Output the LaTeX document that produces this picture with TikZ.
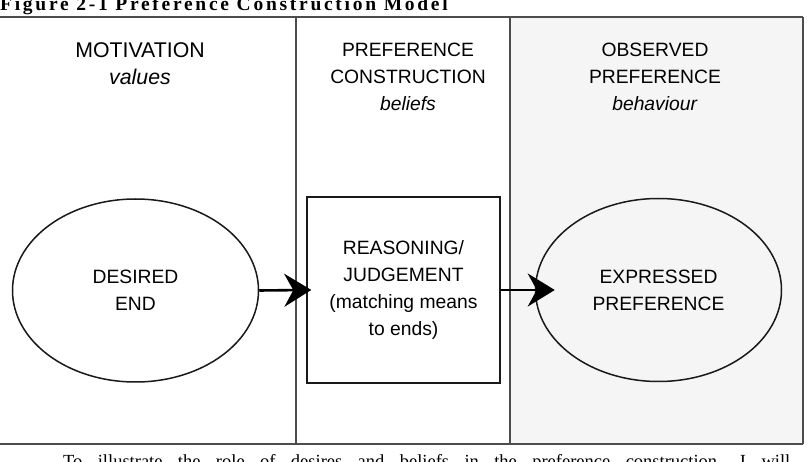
\documentclass[tikz,border=0pt]{standalone}
\usepackage{fontspec}
\setmainfont{Liberation Serif}
\newfontfamily\diagfont{Liberation Sans}
\newfontfamily\titlefont[LetterSpace=14]{Liberation Serif}
\usetikzlibrary{arrows.meta,shapes.geometric}
\begin{document}
\begin{tikzpicture}[x=1pt,y=-1pt,
  frameline/.style={draw=black!70, line width=1.1pt},
  panelshade/.style={fill=black!4},
  labeltext/.style={font=\diagfont\fontsize{19.3}{27}\selectfont, align=center},
  headtext/.style={labeltext, inner sep=0pt},
  ovalnode/.style={labeltext, ellipse, draw=black!90, line width=1.5pt, minimum width=246pt, minimum height=183pt, inner sep=0pt},
  boxnode/.style={labeltext, rectangle, draw=black!90, line width=1.4pt, minimum width=193pt, minimum height=186pt, inner sep=0pt},
  flow/.style={draw=black, line width=2.6pt, -{Stealth[length=27pt,width=33pt,inset=9pt]}}
]
\useasboundingbox (0,0) rectangle (809,462);
% title and running text
\node[anchor=base west, inner sep=0pt, font=\titlefont\bfseries\fontsize{19.5}{23}\selectfont] (title) at (0,11) {Figure 2-1 Preference Construction Model};
\node[anchor=base west, inner sep=0pt, font=\rmfamily\fontsize{18.5}{22}\selectfont] (body) at (63,467) {\makebox[727pt][s]{To illustrate the role of desires and beliefs in the preference construction, I will}};
% panels
\fill[panelshade] (510,17) rectangle (803,444);
\draw[frameline] (0,17) -- (803,17);
\draw[frameline] (0,444) -- (803,444);
\draw[frameline] (803,17) -- (803,444);
\draw[frameline] (296,17) -- (296,444);
\draw[frameline] (510,17) -- (510,444);
% column headings
\node[headtext, font=\diagfont\fontsize{21.3}{27}\selectfont] (hmot) at (140,64) {MOTIVATION\\\textit{values}};
\node[headtext] (hcon) at (408,77) {PREFERENCE\\CONSTRUCTION\\\textit{beliefs}};
\node[headtext] (hobs) at (655,77) {OBSERVED\\PREFERENCE\\\textit{behaviour}};
% main nodes
\node[ovalnode] (desired) at (135.5,290.5) {DESIRED\\END};
\node[boxnode] (reason) at (403.5,290) {REASONING/\\JUDGEMENT\\(matching means\\to ends)};
\node[ovalnode] (expressed) at (658.5,290) {EXPRESSED\\PREFERENCE};
% connectors
\draw[flow, shorten >=-5pt] (desired.east) -- (reason.west);
\draw[flow, shorten >=-20pt] (reason.east) -- (expressed.west);
\end{tikzpicture}
\end{document}
